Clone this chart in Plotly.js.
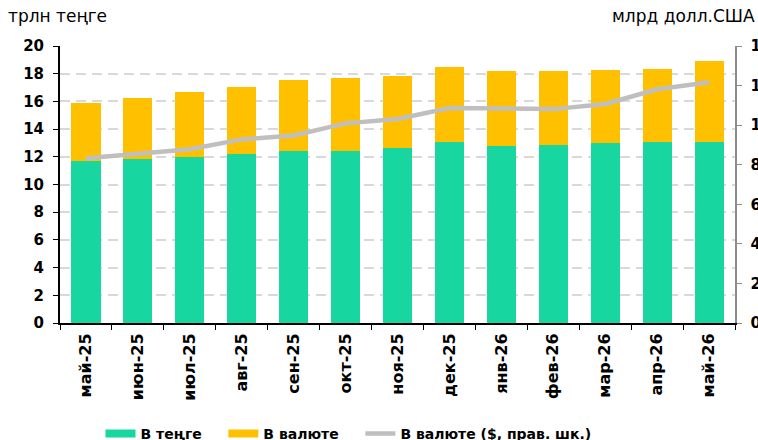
<!DOCTYPE html>
<html>
<head>
<meta charset="utf-8">
<script src="https://cdn.plot.ly/plotly-3.0.1.min.js"></script>
<style>html,body{margin:0;padding:0;background:#fff;}#chart{width:758px;height:440px;}</style>
</head>
<body>
<div id="chart"></div>
<script>
const months = ["май-25","июн-25","июл-25","авг-25","сен-25","окт-25","ноя-25","дек-25","янв-26","фев-26","мар-26","апр-26","май-26"];
const tengeDeposits = [11.71, 11.86, 12.00, 12.22, 12.44, 12.42, 12.63, 13.07, 12.78, 12.83, 12.97, 13.04, 13.04];
const fxDepositsTenge = [4.20, 4.39, 4.68, 4.82, 5.11, 5.25, 5.21, 5.40, 5.40, 5.35, 5.28, 5.33, 5.86];
const fxDepositsUsd = [8.33, 8.54, 8.78, 9.28, 9.48, 10.09, 10.31, 10.87, 10.86, 10.81, 11.07, 11.81, 12.17];
const legendNames = ["В теңге", "В валюте", "В валюте ($, прав. шк.)"];
const leftUnit = "трлн теңге";
const rightUnit = "млрд долл.США";

const GREEN = "#18D6A0", YELLOW = "#FFC000", GREY = "#BFBFBF";
const FONT = "DejaVu Sans, Verdana, sans-serif";

const traces = [
  {type:"bar", x:months, y:tengeDeposits, marker:{color:GREEN}, showlegend:false, hoverinfo:"y"},
  {type:"bar", x:months, y:fxDepositsTenge, marker:{color:YELLOW}, showlegend:false, hoverinfo:"y"},
  {type:"scatter", mode:"lines", x:months, y:fxDepositsUsd, yaxis:"y2", line:{color:GREY, width:4.5}, showlegend:false},
  {type:"scatter", mode:"lines", x:[null], y:[null], name:legendNames[0], legend:"legend", line:{color:GREEN, width:8}},
  {type:"scatter", mode:"lines", x:[null], y:[null], name:legendNames[1], legend:"legend2", line:{color:YELLOW, width:8}},
  {type:"scatter", mode:"lines", x:[null], y:[null], name:legendNames[2], legend:"legend3", yaxis:"y2", line:{color:GREY, width:4.5}}
];

function legendAt(x) {
  return {orientation:"h", x:x, xanchor:"left", y:-0.40, yanchor:"middle",
    font:{family:FONT, size:14, color:"#000", weight:"bold"}, itemwidth:30, bgcolor:"rgba(0,0,0,0)"};
}

const layout = {
  width:758, height:440,
  margin:{l:60, r:23, t:46, b:117, autoexpand:false},
  paper_bgcolor:"#fff", plot_bgcolor:"#fff",
  barmode:"stack", bargap:0.44,
  font:{family:FONT, color:"#000"},
  xaxis:{
    type:"category", tickangle:-90, showline:true, linecolor:"#000", linewidth:2,
    ticks:"outside", tickson:"boundaries", ticklen:5, tickcolor:"#000", tickwidth:1,
    tickfont:{family:FONT, size:16, color:"#000", weight:"bold"}, showgrid:false,
    automargin:false, ticklabelstandoff:2
  },
  yaxis:{
    range:[0,20], dtick:2, showline:true, linecolor:"#000", linewidth:2,
    ticks:"outside", ticklen:5, tickcolor:"#000", tickwidth:1,
    tickfont:{family:FONT, size:15, color:"#000", weight:"bold"},
    showgrid:true, gridcolor:"#D9D9D9", gridwidth:2, griddash:"10px,6px",
    zeroline:false, automargin:false, ticklabelstandoff:6
  },
  yaxis2:{
    overlaying:"y", side:"right", range:[0,14], dtick:2, showline:true, linecolor:"#8C8C8C", linewidth:1.5,
    ticks:"outside", ticklen:5, tickcolor:"#8C8C8C", tickwidth:1,
    tickfont:{family:FONT, size:15, color:"#000", weight:"bold"},
    showgrid:false, zeroline:false, automargin:false, ticklabelstandoff:6
  },
  legend:legendAt(0.06),
  legend2:legendAt(0.242),
  legend3:legendAt(0.445),
  annotations:[
    {xref:"paper", yref:"paper", x:-0.08, y:1.11, xanchor:"left", yanchor:"middle", text:leftUnit, showarrow:false, font:{family:FONT, size:17, color:"#000"}},
    {xref:"paper", yref:"paper", x:1.032, y:1.11, xanchor:"right", yanchor:"middle", text:rightUnit, showarrow:false, font:{family:FONT, size:17, color:"#000"}}
  ]
};

Plotly.newPlot("chart", traces, layout, {displayModeBar:false, staticPlot:true});
</script>
</body>
</html>
